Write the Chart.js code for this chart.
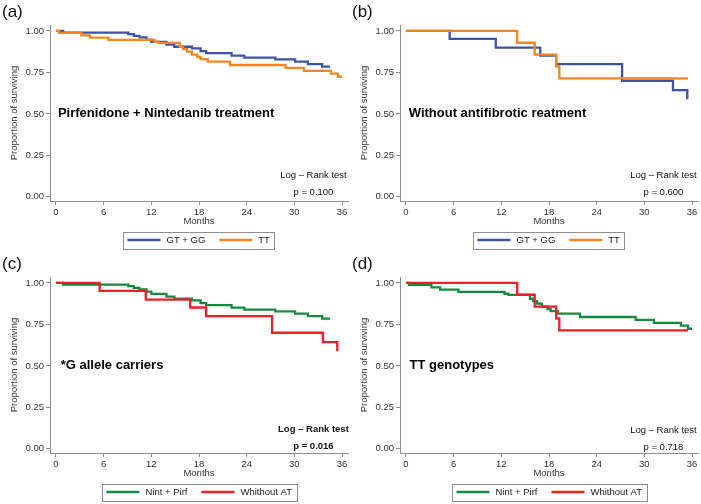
<!DOCTYPE html>
<html><head><meta charset="utf-8">
<script src="https://cdn.jsdelivr.net/npm/chart.js@4"></script>
<style>
html,body{margin:0;padding:0;background:#fff;}
#wrap{position:relative;width:701px;height:504px;background:#fff;}
.p{position:absolute;width:350px;height:252px;}
</style></head><body>
<div id="wrap">
<div class="p" style="left:0;top:0"><canvas id="ca" width="350" height="252"></canvas></div>
<div class="p" style="left:350px;top:0"><canvas id="cb" width="350" height="252"></canvas></div>
<div class="p" style="left:0;top:252px"><canvas id="cc" width="350" height="252"></canvas></div>
<div class="p" style="left:350px;top:252px"><canvas id="cd" width="350" height="252"></canvas></div>
</div>
<script>
// ---- data (months, survival proportion) ----
const xTicks = [0, 6, 12, 18, 24, 30, 36];
const yTicks = [0, 0.25, 0.5, 0.75, 1];

// G allele carriers (GT + GG) treated with Nintedanib + Pirfenidone
const gtNintTimes = [0, 0.9, 9.1, 9.8, 10.5, 11.4, 12.0, 13.9, 14.9, 17.1, 18.2, 18.9, 22.1, 23.7, 27.6, 30.1, 31.7, 33.5, 34.5];
const gtNintSurv  = [1, 0.99, 0.981, 0.971, 0.962, 0.948, 0.934, 0.918, 0.905, 0.895, 0.878, 0.866, 0.851, 0.839, 0.829, 0.815, 0.80, 0.785, 0.785];
// TT genotype treated with Nintedanib + Pirfenidone
const ttNintTimes = [0, 0.4, 3.2, 4.3, 6.6, 12.4, 12.9, 15.6, 16.0, 16.5, 17.1, 17.8, 18.2, 19.1, 21.9, 28.9, 31.2, 34.6, 35.5, 36.0];
const ttNintSurv  = [1, 0.988, 0.974, 0.96, 0.946, 0.935, 0.928, 0.905, 0.89, 0.876, 0.858, 0.843, 0.83, 0.815, 0.795, 0.778, 0.76, 0.743, 0.724, 0.724];
// G allele carriers without antifibrotic treatment
const gtNoneTimes = [0, 5.5, 11.3, 16.9, 18.9, 27.2, 33.6, 35.4];
const gtNoneSurv  = [1, 0.952, 0.90, 0.852, 0.80, 0.70, 0.643, 0.588];
// TT genotype without antifibrotic treatment
const ttNoneTimes = [0, 14.0, 16.2, 18.9, 19.3, 35.5];
const ttNoneSurv  = [1, 0.929, 0.857, 0.786, 0.714, 0.714];

const FONT = '"Liberation Sans", Arial, Helvetica, sans-serif';
const BLUE = '#3b54a6', ORANGE = '#f6841f', GREEN = '#178a3e', RED = '#ee1d26';
const AXIS = '#8f8f8f', TXT = '#333';

function pts(t, s) { return t.map((v, i) => ({x: v, y: s[i]})); }

const annot = {
  id: 'annot',
  afterDraw(chart, args, o) {
    const ctx = chart.ctx, xs = chart.scales.x, ys = chart.scales.y, ca = chart.chartArea;
    ctx.save();
    ctx.textBaseline = 'middle';
    // panel label
    ctx.fillStyle = '#111';
    ctx.textAlign = 'left';
    ctx.font = '17px ' + FONT;
    ctx.fillText(o.label, 2, 12);
    // title inside plot
    ctx.fillStyle = '#000';
    ctx.font = 'bold 13px ' + FONT;
    ctx.fillText(o.title, xs.getPixelForValue(o.titleX), ys.getPixelForValue(0.5));
    // log-rank
    ctx.fillStyle = '#111';
    ctx.textAlign = 'center';
    ctx.font = (o.bold ? 'bold ' : '') + '9.5px ' + FONT;
    ctx.fillText('Log \u2013 Rank test', xs.getPixelForValue(32.4), ys.getPixelForValue(o.lrY));
    ctx.fillText(o.p, xs.getPixelForValue(32.4), ys.getPixelForValue(o.pY));
    // legend
    ctx.font = '9.5px ' + FONT;
    const ds = chart.data.datasets;
    const padL = 4, lineW = 33, gapT = 6, gapItem = 14, padR = 5;
    const w0 = ctx.measureText(ds[0].label).width, w1 = ctx.measureText(ds[1].label).width;
    const boxW = padL + lineW + gapT + w0 + gapItem + lineW + gapT + w1 + padR;
    const cx = (ca.left + ca.right) / 2, cy = 240, boxH = 17;
    const bx = Math.round(cx - boxW / 2) + 0.5, by = Math.round(cy - boxH / 2) + 0.5;
    ctx.strokeStyle = AXIS; ctx.lineWidth = 1;
    ctx.strokeRect(bx, by, Math.round(boxW), boxH);
    let x = bx + padL;
    ctx.textAlign = 'left';
    [[ds[0], w0], [ds[1], w1]].forEach(([d, w]) => {
      ctx.strokeStyle = d.borderColor; ctx.lineWidth = 2.5;
      ctx.beginPath(); ctx.moveTo(x, cy); ctx.lineTo(x + lineW, cy); ctx.stroke();
      x += lineW + gapT;
      ctx.fillStyle = '#222';
      ctx.fillText(d.label, x, cy + 0.5);
      x += w + gapItem;
    });
    ctx.restore();
  }
};

function makeChart(id, s0, s1, ann) {
  const ds = (lab, t, s, col, ord) => ({
    label: lab, data: pts(t, s), borderColor: col, backgroundColor: col,
    borderWidth: 2.3, pointRadius: 0, stepped: true, fill: false, order: ord
  });
  return new Chart(document.getElementById(id), {
    type: 'line',
    data: { datasets: [ds(s0[0], s0[1], s0[2], s0[3], 1), ds(s1[0], s1[1], s1[2], s1[3], 0)] },
    options: {
      responsive: false, animation: false, devicePixelRatio: 1,
      layout: { padding: { top: 25, right: 2, bottom: 26, left: 0 } },
      plugins: { legend: { display: false }, tooltip: { enabled: false }, annot: ann },
      scales: {
        x: {
          type: 'linear', min: -0.75, max: 36.75,
          afterBuildTicks: sc => { sc.ticks = xTicks.map(v => ({ value: v })); },
          afterFit: sc => { sc.height = 25; },
          ticks: { font: { family: FONT, size: 9.5 }, color: TXT, padding: 2, maxRotation: 0 },
          grid: { drawOnChartArea: false, drawTicks: true, tickLength: 4, color: AXIS },
          border: { display: true, color: AXIS },
          title: { display: true, text: 'Months', color: TXT, font: { family: FONT, size: 9.5 }, padding: { top: 0, bottom: -1 } }
        },
        y: {
          type: 'linear', min: -0.025, max: 1.036,
          afterBuildTicks: sc => { sc.ticks = yTicks.map(v => ({ value: v })); },
          afterFit: sc => { sc.width = 50; },
          ticks: { font: { family: FONT, size: 9.5 }, color: TXT, padding: 2, callback: v => v.toFixed(2) },
          grid: { drawOnChartArea: false, drawTicks: true, tickLength: 4, color: AXIS },
          border: { display: true, color: AXIS },
          title: { display: true, text: 'Proportion of surviving', color: TXT, font: { family: FONT, size: 9.5 }, padding: { top: 8.5, bottom: 0 } }
        }
      }
    },
    plugins: [annot]
  });
}

makeChart('ca',
  ['GT + GG', gtNintTimes, gtNintSurv, BLUE],
  ['TT', ttNintTimes, ttNintSurv, ORANGE],
  { label: '(a)', title: 'Pirfenidone + Nintedanib treatment', titleX: 0.25, lrY: 0.127, pY: 0.024, p: 'p = 0.100', bold: false });
makeChart('cb',
  ['GT + GG', gtNoneTimes, gtNoneSurv, BLUE],
  ['TT', ttNoneTimes, ttNoneSurv, ORANGE],
  { label: '(b)', title: 'Without antifibrotic reatment', titleX: 0.35, lrY: 0.127, pY: 0.026, p: 'p = 0.600', bold: false });
makeChart('cc',
  ['Nint + Pirf', gtNintTimes, gtNintSurv, GREEN],
  ['Whithout AT', gtNoneTimes, gtNoneSurv, RED],
  { label: '(c)', title: '*G allele carriers', titleX: 0.6, lrY: 0.116, pY: 0.016, p: 'p = 0.016', bold: true });
makeChart('cd',
  ['Nint + Pirf', ttNintTimes, ttNintSurv, GREEN],
  ['Whithout AT', ttNoneTimes, ttNoneSurv, RED],
  { label: '(d)', title: 'TT genotypes', titleX: 0.45, lrY: 0.11, pY: 0.008, p: 'p = 0.718', bold: false });
</script>
</body></html>
